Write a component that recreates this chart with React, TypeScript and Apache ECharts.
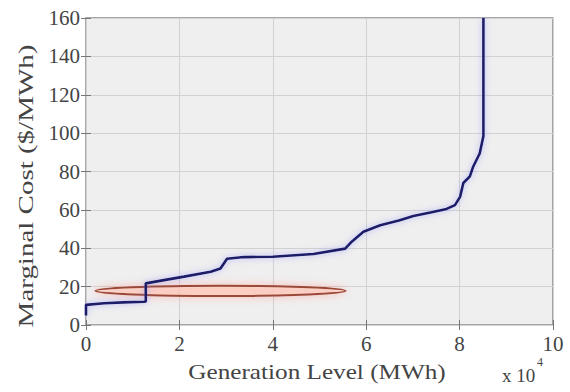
import React, { useEffect, useRef } from "react";
import * as echarts from "echarts";

// Generation level (MWh) and marginal cost ($/MWh) of the supply curve
const genLevel = [
  0, 0, 3900, 8000, 12400, 12800, 12800, 16700, 21000, 26700, 28800, 30200, 33800,
  40000, 48700, 55500, 56900, 59400, 63000, 67000, 70100, 74000, 77200, 79000,
  80100, 80800, 82200, 82900, 84300, 85100, 85100,
];
const marginalCost = [
  5, 10.5, 11.3, 11.8, 12.1, 12.3, 21.7, 23.4, 25.2, 27.8, 29.5, 34.5, 35.4,
  35.6, 37, 39.8, 43.4, 48.6, 52, 54.5, 56.8, 58.8, 60.5, 62.5, 66.8, 74,
  77.5, 82.5, 89.4, 98.5, 160,
];
// Highlight ellipse: centre x, centre y, half-width, half-height (data units)
const ellipseCentreX = [28800];
const ellipseCentreY = [17.8];
const ellipseHalfWidth = [26800];
const ellipseHalfHeight = [2.7];

const xTicks = [0, 2, 4, 6, 8, 10];
const yTicks = [0, 20, 40, 60, 80, 100, 120, 140, 160];

const xTitle = "Generation Level (MWh)";
const yTitle = "Marginal Cost ($/MWh)";

const FONT = "Liberation Serif";
const TXT = "#444444";

export default function App() {
  const ref = useRef<HTMLDivElement>(null);
  useEffect(() => {
    if (!ref.current) return;
    const chart = echarts.init(ref.current, undefined, { renderer: "svg" });
    const lineData = genLevel.map((x, i) => [x, marginalCost[i]]);
    const ellData = ellipseCentreX.map((x, i) => [
      x,
      ellipseCentreY[i],
      ellipseHalfWidth[i],
      ellipseHalfHeight[i],
    ]);
    const tickCommon = {
      show: true,
      inside: true,
      length: 5,
      lineStyle: { color: "#777" },
    };
    chart.setOption({
      animation: false,
      backgroundColor: "#ffffff",
      grid: {
        left: 86,
        right: 17,
        top: 18,
        bottom: 67,
        show: true,
        backgroundColor: "#efefef",
        borderColor: "#8c8c8c",
        borderWidth: 1.5,
      },
      xAxis: [
        {
          type: "value",
          min: 0,
          max: 100000,
          interval: 20000,
          axisLine: { show: false },
          axisTick: tickCommon,
          axisLabel: {
            margin: 8,
            fontFamily: FONT,
            fontSize: 21,
            color: TXT,
            formatter: (v: number) => {
              const t = v / 10000;
              return xTicks.includes(t) ? String(t) : "";
            },
          },
          splitLine: { show: true, lineStyle: { color: "#d2d2d2", width: 1 } },
        },
        {
          type: "value",
          position: "top",
          min: 0,
          max: 100000,
          interval: 20000,
          axisLine: { show: false },
          axisTick: tickCommon,
          axisLabel: { show: false },
          splitLine: { show: false },
        },
      ],
      yAxis: [
        {
          type: "value",
          min: 0,
          max: 160,
          interval: 20,
          axisLine: { show: false },
          axisTick: tickCommon,
          axisLabel: {
            margin: 6,
            fontFamily: FONT,
            fontSize: 21,
            color: TXT,
            formatter: (v: number) => (yTicks.includes(v) ? String(v) : ""),
          },
          splitLine: { show: true, lineStyle: { color: "#d2d2d2", width: 1 } },
        },
        {
          type: "value",
          position: "right",
          min: 0,
          max: 160,
          interval: 20,
          axisLine: { show: false },
          axisTick: tickCommon,
          axisLabel: { show: false },
          splitLine: { show: false },
        },
      ],
      graphic: [
        {
          type: "text",
          x: 317,
          y: 372,
          scaleX: 1.26,
          style: {
            text: xTitle,
            font: `20px "${FONT}"`,
            fill: TXT,
            align: "center",
            verticalAlign: "middle",
          },
        },
        {
          type: "text",
          x: 26,
          y: 186,
          rotation: Math.PI / 2,
          scaleX: 1.45,
          style: {
            text: yTitle,
            font: `20px "${FONT}"`,
            fill: TXT,
            align: "center",
            verticalAlign: "middle",
          },
        },
        {
          type: "text",
          x: 502,
          y: 366,
          style: { text: "x 10", font: `19px "${FONT}"`, fill: TXT },
        },
        {
          type: "text",
          x: 537,
          y: 356,
          style: { text: "4", font: `12px "${FONT}"`, fill: TXT },
        },
      ],
      series: [
        {
          type: "custom",
          xAxisIndex: 0,
          yAxisIndex: 0,
          data: ellData,
          z: 3,
          renderItem: (params: any, api: any) => {
            const c = api.coord([api.value(0), api.value(1)]);
            const s = api.size([api.value(2), api.value(3)]);
            return {
              type: "ellipse",
              shape: { cx: c[0], cy: c[1], rx: s[0], ry: s[1] },
              style: {
                fill: "rgba(255,205,190,0.6)",
                stroke: "#9a4a38",
                lineWidth: 2,
                shadowColor: "rgba(255,150,140,0.7)",
                shadowBlur: 8,
              },
            };
          },
        },
        {
          type: "line",
          xAxisIndex: 0,
          yAxisIndex: 0,
          data: lineData,
          showSymbol: false,
          z: 4,
          lineStyle: {
            color: "#1c1c68",
            width: 2.6,
            shadowColor: "rgba(130,130,255,0.6)",
            shadowBlur: 6,
          },
        },
      ],
    });
    return () => chart.dispose();
  }, []);
  return <div ref={ref} style={{ width: 570, height: 392, position: "absolute", left: 0, top: 0 }} />;
}
